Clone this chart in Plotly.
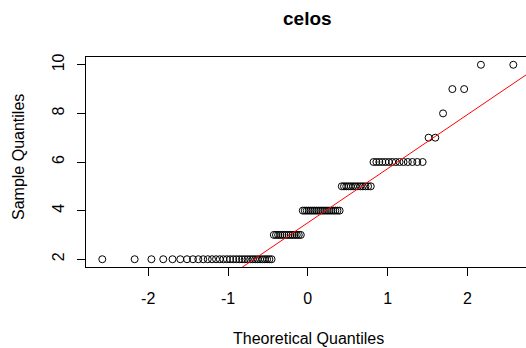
import plotly.graph_objects as go
from statistics import NormalDist

title = "celos"
values = [2, 3, 4, 5, 6, 7, 8, 9, 10]
counts = [33, 14, 19, 13, 14, 2, 1, 2, 2]

sample = []
for v, c in zip(values, counts):
    sample += [v] * c
n = len(sample)
nd = NormalDist()
a = 3 / 8 if n <= 10 else 0.5
theo = [nd.inv_cdf((i + 1 - a) / (n + 1 - 2 * a)) for i in range(n)]

def quantile7(data, p):
    s = sorted(data)
    h = (len(s) - 1) * p
    lo = int(h)
    hi = min(lo + 1, len(s) - 1)
    return s[lo] + (h - lo) * (s[hi] - s[lo])

y1, y2 = quantile7(sample, 0.25), quantile7(sample, 0.75)
x1, x2 = nd.inv_cdf(0.25), nd.inv_cdf(0.75)
slope = (y2 - y1) / (x2 - x1)
inter = y1 - slope * x1
lx = [-4, 4]
ly = [inter + slope * v for v in lx]

W, H = 526, 348
ml, mr, mt, mb = 86, 0, 57, 81
font = "Liberation Sans, Arial, sans-serif"

fig = go.Figure()
fig.add_trace(go.Scatter(x=theo, y=sample, mode="markers",
                         marker=dict(symbol="circle-open", size=7, color="black",
                                     line=dict(width=1, color="black")),
                         cliponaxis=False, showlegend=False))
fig.add_trace(go.Scatter(x=lx, y=ly, mode="lines",
                         line=dict(color="red", width=1), showlegend=False))

fig.update_layout(
    width=W, height=H, margin=dict(l=ml, r=mr, t=mt, b=mb, autoexpand=False),
    paper_bgcolor="white", plot_bgcolor="white",
    font=dict(family=font, size=16, color="black"),
    xaxis=dict(range=[-2.78, 2.735], showgrid=False, zeroline=False, automargin=False,
               showline=True, linecolor="black", linewidth=1, mirror=True,
               ticks="outside", ticklen=8, tickcolor="black",
               tickvals=[-2, -1, 0, 1, 2], ticktext=["-2", "-1", "0", "1", "2"],
               ticklabelstandoff=9, tickfont=dict(size=16)),
    yaxis=dict(range=[1.68, 10.32], showgrid=False, zeroline=False, automargin=False,
               showline=True, linecolor="black", linewidth=1, mirror=False,
               ticks="outside", ticklen=8, tickcolor="black",
               tickvals=[2, 4, 6, 8, 10], ticktext=["2", "4", "6", "8", "10"],
               tickangle=-90, ticklabelstandoff=7, tickfont=dict(size=16)),
)
pw = W - ml - mr
ph = H - mt - mb
def px_to_paper_x(px):
    return (px - ml) / pw
def px_to_paper_y(py):
    return (H - mb - py) / ph
fig.update_layout(annotations=[
    dict(text="<b>" + title + "</b>", x=px_to_paper_x(307), y=px_to_paper_y(18),
         xref="paper", yref="paper", xanchor="center", yanchor="middle",
         showarrow=False, font=dict(size=19)),
    dict(text="Theoretical Quantiles", x=px_to_paper_x(308), y=px_to_paper_y(338),
         xref="paper", yref="paper", xanchor="center", yanchor="middle",
         showarrow=False, font=dict(size=16)),
    dict(text="Sample Quantiles", x=px_to_paper_x(18), y=px_to_paper_y(157),
         xref="paper", yref="paper", xanchor="center", yanchor="middle",
         showarrow=False, textangle=-90, font=dict(size=16)),
])

fig.write_html("out.html", config={"displayModeBar": False},
               post_script="document.body.style.margin='0';document.body.style.overflow='hidden';")
